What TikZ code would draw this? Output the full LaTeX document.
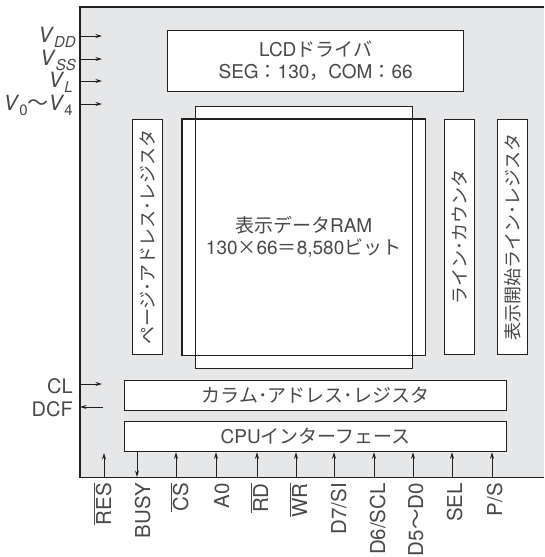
\documentclass[tikz,border=0pt]{standalone}
\usepackage{fontspec}
\setmainfont{TeX Gyre Heros}
\newfontfamily\cjk{Noto Sans CJK JP}
\usetikzlibrary{arrows.meta}
\definecolor{bg}{RGB}{230,231,232}
\definecolor{ln}{RGB}{35,31,32}
\definecolor{tx}{RGB}{72,72,72}
\newcommand\J[1]{{\cjk\fontsize{19}{22}\selectfont #1}}
\newcommand\ovl[1]{$\overline{\mbox{#1}}$}
\newcommand\subit[1]{\raisebox{-0.25em}{\fontsize{15}{15}\selectfont\textit{#1}}}
\newcommand\subup[1]{\raisebox{-0.25em}{\fontsize{15}{15}\selectfont #1}}
\tikzset{
  blk/.style={draw=ln, fill=white, line width=1.3pt, anchor=north west, inner sep=0pt},
  ar/.style={draw=ln, line width=0.9pt, -{Stealth[length=6.5pt,width=4pt]}},
  txt/.style={text=tx, font=\fontsize{19}{22}\selectfont, inner sep=0pt, align=center},
  jv/.style={text=tx, font=\fontsize{18}{20}\selectfont\cjk, inner sep=0pt, rotate=90},
  bl/.style={text=tx, font=\fontsize{20.5}{22}\selectfont, inner sep=0pt, rotate=90, anchor=base east},
  vl/.style={text=tx, font=\fontsize{21}{22}\selectfont, inner sep=0pt, anchor=base east},
}
\begin{document}
\begin{tikzpicture}[x=1pt,y=-1pt]
\useasboundingbox (0,0) rectangle (544,557);
% chip body
\node[fill=bg, anchor=north west, inner sep=0pt, minimum width=464pt, minimum height=470pt] (chip) at (80,7) {};
\draw[ln, line width=1.5pt] (chip.north east) -- (chip.north west) -- (chip.south west) -- (chip.south east);

% blocks
\node[blk, minimum width=296pt, minimum height=61pt] (lcd) at (167,30) {};
\node[txt] at (lcd.center) {LCD\J{ドライバ}\\SEG\J{：}130\J{，}COM\J{：}66};

\node[blk, minimum width=30pt, minimum height=235pt] (page) at (132,119) {};
\node[jv] at (page.center) {ページ･アドレス･レジスタ};

\node[blk, draw=none, minimum width=242pt, minimum height=235pt] (ramA) at (182,119) {};
\node[blk, minimum width=217pt, minimum height=262pt] (ramB) at (195,106) {};
\draw[ln, line width=1.3pt] (ramA.north west) rectangle (ramA.south east);
\node[txt] at (ramA.center) {\J{表示データ}RAM\\130\J{×}66\J{＝}8,580\J{ビット}};

\node[blk, minimum width=30pt, minimum height=235pt] (linec) at (444,119) {};
\node[jv] at (linec.center) {ライン･カウンタ};

\node[blk, minimum width=30pt, minimum height=235pt] (dsl) at (497,119) {};
\node[jv] at (dsl.center) {表示開始ライン･レジスタ};

\node[blk, minimum width=382pt, minimum height=30pt] (col) at (124,380) {};
\node[txt] at (col.center) {\J{カラム･アドレス･レジスタ}};

\node[blk, minimum width=382pt, minimum height=30pt] (cpu) at (124,421) {};
\node[txt] at (cpu.center) {CPU\J{インターフェース}};

% left side signals
\foreach \n/\y in {vdd/36, vss/59, vl/81, vz/104, cl/384}{
  \coordinate (\n) at (chip.west |- 0,\y);
  \draw[ar] (\n) -- ++(22,0);
}
\coordinate (dcf) at (chip.west |- 0,407);
\coordinate (dcfin) at (103,407);
\draw[ar] (dcfin) -- (dcf);

\node[vl] at (76,42) {\textit{V}\subit{DD}};
\node[vl] at (76,65) {\textit{V}\subit{SS}};
\node[vl] at (73,87) {\textit{V}\subit{L}};
\node[vl] at (73,110) {\textit{V}\subup{0}{\cjk ～}\textit{V}\subup{4}};
\node[vl, font=\fontsize{20}{22}\selectfont] at (73,393) {CL};
\node[vl, font=\fontsize{20}{22}\selectfont] at (73,416) {DCF};

% bottom signals
\coordinate (res) at (104,477);
\coordinate (restip) at (104,453);
\draw[ar] (res) -- (restip);
\coordinate (busy) at (137,477);
\draw[ar] (cpu.south -| busy) -- (busy);
\foreach \n/\x in {cs/176, a0/216, rd/257, wr/296, d7/334, d6/374, d5/413, sel/452, ps/492}{
  \coordinate (\n) at (\x,477);
  \draw[ar] (\n) -- (\n |- cpu.south);
}
\node[bl] at (111,483) {\ovl{RES}};
\node[bl] at (150,483) {BUSY};
\node[bl] at (188,483) {\ovl{CS}};
\node[bl] at (229,483) {A0};
\node[bl] at (268,483) {\ovl{RD}};
\node[bl] at (307,483) {\ovl{WR}};
\node[bl] at (346,483) {D7/SI};
\node[bl] at (385,483) {D6/SCL};
\node[bl] at (423,483) {D5{\cjk ～}D0};
\node[bl] at (462,483) {SEL};
\node[bl] at (502,483) {P/S};
\end{tikzpicture}
\end{document}
